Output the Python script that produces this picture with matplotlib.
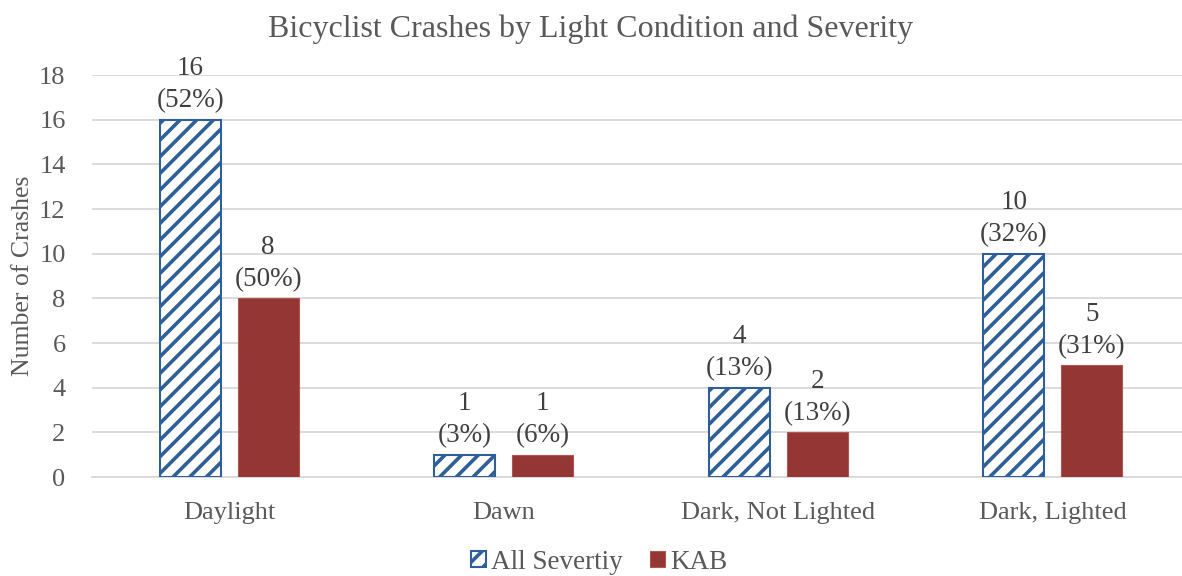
import numpy as np
import matplotlib.pyplot as plt

plt.rcParams['font.family'] = ['Liberation Serif', 'DejaVu Serif']
plt.rcParams['hatch.linewidth'] = 2.6

categories = ['Daylight', 'Dawn', 'Dark, Not Lighted', 'Dark, Lighted']
all_sev = [16, 1, 4, 10]
all_pct = ['52%', '3%', '13%', '32%']
kab = [8, 1, 2, 5]
kab_pct = ['50%', '6%', '13%', '31%']

blue = '#2F5F98'
red = '#943634'
gray = '#595959'

fig = plt.figure(figsize=(11.82, 5.76), dpi=100)
ax = fig.add_axes([92 / 1182, 99 / 576, 1098 / 1182, 402 / 576])

x = np.arange(len(categories))
w = 0.222
off = 0.142
ax.bar(x - off, all_sev, w, color='white', edgecolor=blue, hatch='//',
       linewidth=1.5, label='All Severtiy', zorder=3)
ax.bar(x + off, kab, w, color=red, edgecolor='#B05552', linewidth=0.8,
       label='KAB', zorder=3)

for xi, v, p in zip(x - off, all_sev, all_pct):
    ax.text(xi, v + 0.3, f'{v}\n({p})', ha='center', va='bottom',
            fontsize=19.5, color='#404040', linespacing=1.35)
for xi, v, p in zip(x + off, kab, kab_pct):
    ax.text(xi, v + 0.3, f'{v}\n({p})', ha='center', va='bottom',
            fontsize=19.5, color='#404040', linespacing=1.35)

ax.set_xlim(-0.5, 3.5)
ax.set_ylim(0, 18)
ax.set_yticks(range(0, 19, 2))
ax.set_xticks(x)
ax.set_xticklabels(categories)
ax.grid(axis='y', color='#D9D9D9', linewidth=1.3, zorder=0)
ax.set_axisbelow(True)
for s in ['top', 'right', 'left']:
    ax.spines[s].set_visible(False)
ax.spines['bottom'].set_color('#D9D9D9')
ax.spines['bottom'].set_linewidth(1.3)
ax.tick_params(axis='y', length=0, labelsize=19, colors=gray, pad=19)
ax.tick_params(axis='x', length=0, labelsize=19, colors=gray, pad=18)
ax.set_ylabel('Number of Crashes', fontsize=18.5, color=gray, labelpad=4)

fig.suptitle('Bicyclist Crashes by Light Condition and Severity', fontsize=23,
             color=gray, y=0.975)

fig.legend(loc='lower center', bbox_to_anchor=(0.507, -0.04), ncol=2,
           frameon=False, fontsize=19.5, labelcolor=gray, handlelength=0.55,
           handleheight=0.55, handletextpad=0.2, columnspacing=1.0)

fig.savefig('out.png', dpi=100)
